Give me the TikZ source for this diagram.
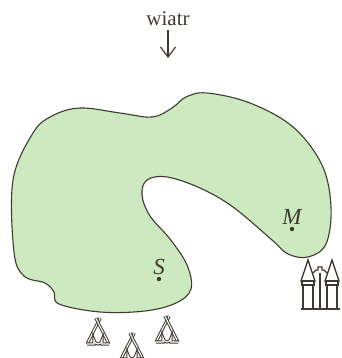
\documentclass[tikz,border=0pt]{standalone}
\usepackage{fontspec}
\setmainfont{Liberation Serif}
\usetikzlibrary{arrows.meta}

\definecolor{ink}{RGB}{62,58,48}
\definecolor{meadow}{RGB}{204,233,192}

\begin{document}
\begin{tikzpicture}[
        x=1pt, y=-1pt,
        lake/.style={
            draw=ink,
            fill=meadow,
            line width=1.1pt
        },
        sketch/.style={
            draw=ink,
            line width=1.4pt,
            line join=miter
        },
        hollow/.style={
            draw=ink,
            line width=1pt,
            double=white,
            double distance=1.1pt
        },
        label/.style={
            text=ink,
            font=\fontsize{23}{25}\selectfont\itshape,
            inner sep=0pt
        },
        dot/.style={
            circle,
            fill=ink,
            inner sep=0pt,
            minimum size=4.4pt
        },
        arrow/.style={
            -{Straight Barb[length=10pt,width=15pt,line width=1.2pt]},
            draw=ink,
            line width=1.2pt
        },
        tent/.pic={
            \draw[hollow] (-11,0) -- (2.2,-26);
            \draw[hollow] (11,0) -- (-2.2,-26);
            \draw[hollow] (-11,0) -- (-4,0) -- (-4,-4) arc[start angle=180, end angle=0, radius=4] -- (4,0) -- (11,0);
        }
    ]
    \useasboundingbox (0,0) rectangle (341,358);

    % Wind
    \node[text=ink, font=\fontsize{21}{24}\selectfont, inner sep=1pt] (wind) at (168,19) {wiatr};
    \coordinate (windstart) at (168,30);
    \coordinate (windtip) at (168,58);
    \draw[arrow] (windstart) -- (windtip);

    % Region
    \draw[lake] plot[smooth cycle, tension=0.6] coordinates {
        (80,108) (120,113) (152,117) (172,108) (186,97) (207,93)
        (250,103) (293,127) (322,165) (331,207) (326,244) (308,257)
        (288,254) (272,240) (233,207) (200,188) (167,177) (147,180)
        (142,195) (150,216) (170,239) (187,265) (191,289) (176,303)
        (145,311) (100,312) (59,304) (54,292) (45,283) (24,276)
        (14,252) (13,180) (33,133) (52,116)
    };

    % Points
    \node[dot] (pointS) at (159,279) {};
    \node[label, above=4pt] (labelS) at (pointS) {S};
    \node[dot] (pointM) at (292,229) {};
    \node[label, above=4pt] (labelM) at (pointM) {M};

    % Tents
    \pic at (98,344) {tent};
    \pic at (132,359) {tent};
    \pic at (167,342) {tent};

    % Castle
    \draw[sketch] (301,309) -- (340,309);
    \draw[sketch] (303,309) -- (303,285) (313,309) -- (313,285);
    \draw[sketch] (327,309) -- (327,285) (337,309) -- (337,285);
    \draw[sketch] (320,309) -- (320,273);
    \draw[sketch] (301,281) -- (308,260) -- (315,281) -- cycle;
    \draw[sketch] (325,281) -- (332,260) -- (339,281) -- cycle;
    \draw[sketch] (302,281) rectangle (314,285);
    \draw[sketch] (326,281) rectangle (338,285);
    \draw[sketch] (313,273) -- (316,270) -- (318,270) -- (318,267) -- (322,267) -- (322,270) -- (324,270) -- (327,273);

\end{tikzpicture}
\end{document}
